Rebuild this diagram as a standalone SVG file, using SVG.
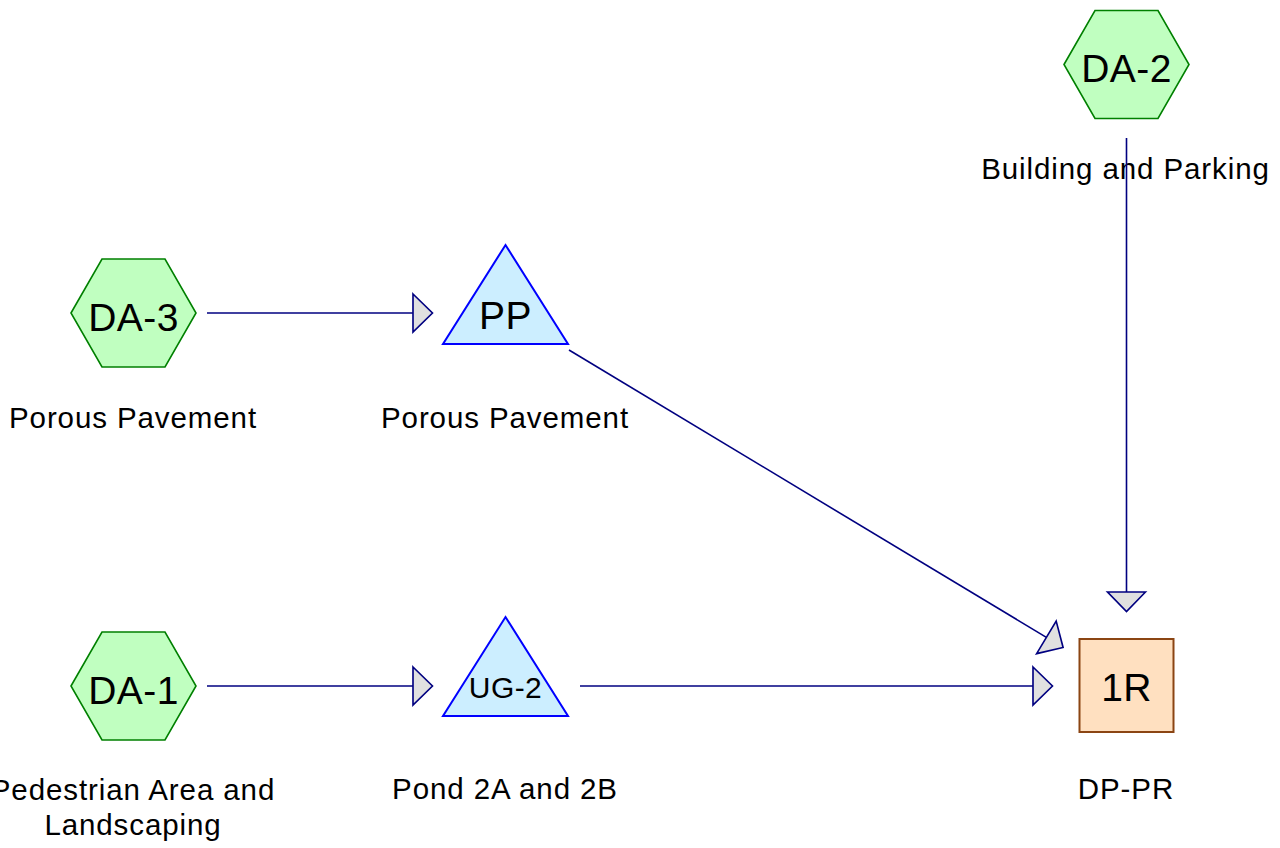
<svg xmlns="http://www.w3.org/2000/svg" width="1280" height="848" viewBox="0 0 1280 848">
<style>
.hex{fill:#C0FFC0;stroke:#008000;stroke-width:1.6}
.tri{fill:#CCEEFF;stroke:#0000FF;stroke-width:2}
.reach{fill:#FFE0C0;stroke:#8B4513;stroke-width:2}
.lbl{font-family:"Liberation Sans",Arial,sans-serif;font-size:29.5px;letter-spacing:0.9px;fill:#000;text-anchor:middle}
.id{font-family:"Liberation Sans",Arial,sans-serif;font-size:39px;letter-spacing:0.4px;fill:#000;text-anchor:middle}
.conn{stroke:#000080;stroke-width:1.6;fill:none;marker-end:url(#ah)}
</style>
<defs>
<marker id="ah" markerUnits="userSpaceOnUse" markerWidth="22" markerHeight="40" viewBox="-1 -1 21 39" refX="0" refY="18.5" orient="auto" overflow="visible">
<path d="M0,0 L19,18.5 L0,37 Z" fill="#E0E0E0" stroke="#000080" stroke-width="1.6"/>
</marker>
</defs>
<rect width="1280" height="848" fill="#fff"/>
<g id="DA-3">
<polygon class="hex" points="71,313 102,259 165,259 196,313 165,367 102,367"/>
<text class="id" x="133.5" y="331">DA-3</text>
<text class="lbl" x="133" y="428">Porous Pavement</text>
</g>
<g id="DA-1">
<polygon class="hex" points="71,686 102,632 165,632 196,686 165,740 102,740"/>
<text class="id" x="133.5" y="704">DA-1</text>
<text class="lbl" x="133" y="800">Pedestrian Area and</text>
<text class="lbl" x="133" y="835">Landscaping</text>
</g>
<g id="DA-2">
<polygon class="hex" points="1064,64.5 1095,10.5 1158,10.5 1189,64.5 1158,118.5 1095,118.5"/>
<text class="id" x="1126.5" y="82">DA-2</text>
<text class="lbl" x="1125.5" y="179">Building and Parking</text>
</g>
<g id="PP">
<polygon class="tri" points="505.5,245 568,344 443,344"/>
<text class="id" x="505.5" y="329">PP</text>
<text class="lbl" x="505" y="428">Porous Pavement</text>
</g>
<g id="UG-2">
<polygon class="tri" points="505.5,617 568,716 443,716"/>
<text class="id" x="505.5" y="698" style="font-size:30px">UG-2</text>
<text class="lbl" x="505" y="799">Pond 2A and 2B</text>
</g>
<g id="1R">
<rect class="reach" x="1079.5" y="639" width="94" height="93"/>
<text class="id" x="1126.5" y="701">1R</text>
<text class="lbl" x="1126" y="799">DP-PR</text>
</g>
<g id="connectors">
<line class="conn" x1="207" y1="313" x2="413" y2="313"/>
<line class="conn" x1="207" y1="686" x2="413" y2="686"/>
<line class="conn" x1="580" y1="686" x2="1033" y2="686"/>
<line class="conn" x1="569" y1="350" x2="1046.4" y2="637.4"/>
<line class="conn" x1="1126.5" y1="138" x2="1126.5" y2="592"/>
</g>
</svg>
